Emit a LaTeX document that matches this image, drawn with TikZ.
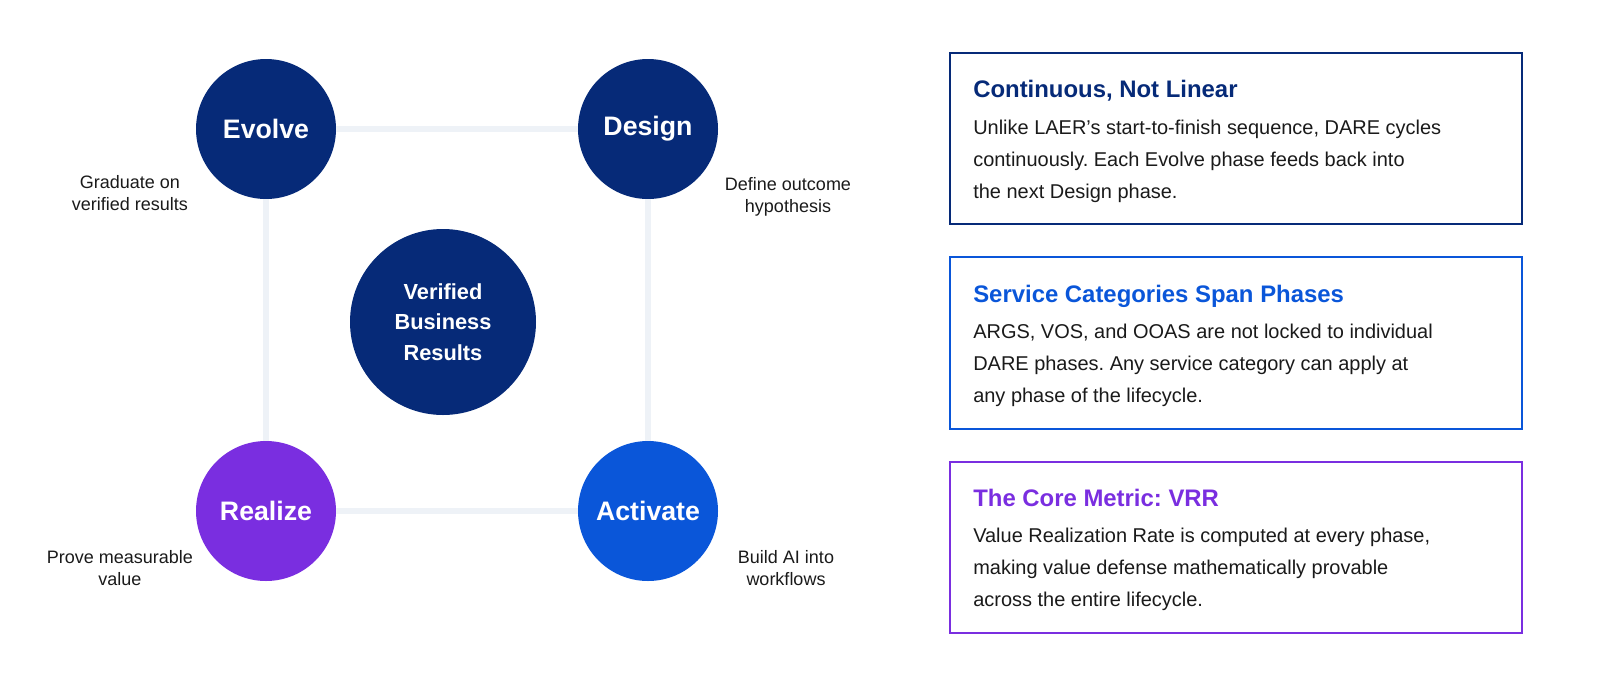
\documentclass[tikz,border=0pt]{standalone}
\usepackage{fontspec}
\setmainfont{Liberation Sans}
\frenchspacing
\definecolor{navy}{HTML}{062A78}
\definecolor{blu}{HTML}{0A56D9}
\definecolor{purp}{HTML}{7A2EE0}
\definecolor{lin}{HTML}{EEF2F7}
\definecolor{txt}{HTML}{1A1A1A}
\begin{document}
\begin{tikzpicture}[x=0.025cm,y=-0.025cm,
 circ/.style={circle,minimum size=140*0.025cm,inner sep=0pt,text=white,font=\fontsize{19}{22}\selectfont\bfseries},
 lab/.style={align=center,text=txt,font=\fontsize{12.8}{16}\selectfont},
 box/.style={draw,line width=1.6pt,minimum width=572*0.025cm,anchor=north west},
 ttl/.style={anchor=base west,font=\fontsize{17}{20}\selectfont\bfseries},
 body/.style={anchor=north west,align=left,text=txt,inner sep=0pt,font=\fontsize{14.2}{22.7}\selectfont}]
\useasboundingbox (0,0) rectangle (1600,693);
\node[circ,fill=navy] (ev) at (266,129) {Evolve};
\node[circ,fill=navy] (de) at (648,129) {Design};
\node[circ,fill=purp] (re) at (266,511) {Realize};
\node[circ,fill=blu] (ac) at (648,511) {Activate};
\draw[lin,line width=4.5pt] (ev) -- (de);
\draw[lin,line width=4.5pt] (de) -- (ac);
\draw[lin,line width=4.5pt] (ac) -- (re);
\draw[lin,line width=4.5pt] (re) -- (ev);
\node[circle,minimum size=186*0.025cm,fill=navy,text=white,align=center,font=\fontsize{15.5}{21.5}\selectfont\bfseries] (vb) at (443,322) {Verified\\Business\\Results};
\node[lab] (l1) at (130,193) {Graduate on\\verified results};
\node[lab] (l2) at (788,197) {Define outcome\\hypothesis};
\node[lab] (l3) at (120,568) {Prove measurable\\value};
\node[lab] (l4) at (786,568) {Build AI into\\workflows};
\node[box,draw=navy,minimum height=171*0.025cm] (b1) at (949,52) {};
\node[box,draw=blu,minimum height=172*0.025cm] (b2) at (949,256) {};
\node[box,draw=purp,minimum height=171*0.025cm] (b3) at (949,461) {};
\node[ttl,text=navy,inner sep=0pt] (t1) at (973,97) {Continuous, Not Linear};
\node[body] (d1) at (973,120) {Unlike LAER’s start-to-finish sequence, DARE cycles\\continuously. Each Evolve phase feeds back into\\the next Design phase.};
\node[ttl,text=blu,inner sep=0pt] (t2) at (973,302) {Service Categories Span Phases};
\node[body] (d2) at (973,324) {ARGS, VOS, and OOAS are not locked to individual\\DARE phases. Any service category can apply at\\any phase of the lifecycle.};
\node[ttl,text=purp,inner sep=0pt] (t3) at (973,506) {The Core Metric: VRR};
\node[body] (d3) at (973,528) {Value Realization Rate is computed at every phase,\\making value defense mathematically provable\\across the entire lifecycle.};
\end{tikzpicture}
\end{document}
